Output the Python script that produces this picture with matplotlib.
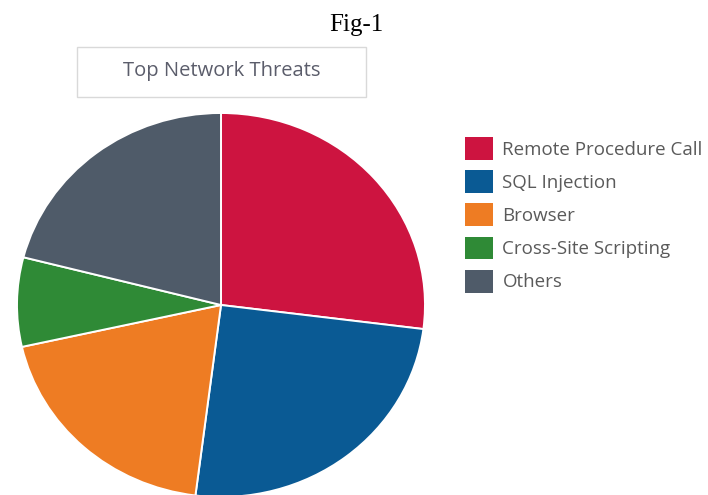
import matplotlib
matplotlib.use("Agg")
from matplotlib import pyplot as plt
from matplotlib.patches import Rectangle

# data
labels = ['Remote Procedure Call', 'SQL Injection', 'Browser',
          'Cross-Site Scripting', 'Others']
shares = [27, 25, 19.5, 7.5, 21]
colors = ['#CD1440', '#0A5A94', '#EE7C23', '#2F8A36', '#4F5B69']

W, H = 708, 495
fig = plt.figure(figsize=(W / 100, H / 100), dpi=100)
fig.set_facecolor('w')


def px(x, y):
    # pixel (top-left origin) -> figure fraction
    return x / W, 1 - y / H


# pie axes: centre (221, 305), radii 204 x 192 px
cx, cy, rx, ry = 221, 305, 204, 192
ax = fig.add_axes([(cx - rx) / W, 1 - (cy + ry) / H, 2 * rx / W, 2 * ry / H])
wedges, _ = ax.pie(shares, colors=colors, startangle=90, counterclock=False,
                   radius=1, wedgeprops=dict(edgecolor='white', linewidth=1.4))
ax.set_aspect('auto')
ax.set_xlim(-1, 1)
ax.set_ylim(-1, 1)
ax.axis('off')

# caption on top
fig.text(*px(356, 31), 'Fig-1', family='Liberation Serif', fontsize=18,
         ha='center', va='baseline', color='black')

# boxed title
x0, y0 = px(77, 97)
x1, y1 = px(366, 47)
fig.patches.append(Rectangle((x0, y0), x1 - x0, y1 - y0, transform=fig.transFigure,
                             facecolor='white', edgecolor='#d9d9d9', lw=1))
fig.text(*px(222, 71), 'Top Network Threats', family='Open Sans', fontsize=14.5,
         ha='center', va='center', color='#5b5d6b')

leg = fig.legend(wedges, labels, loc='upper left', bbox_to_anchor=px(465, 137),
                 frameon=False, borderpad=0, borderaxespad=0,
                 handlelength=1.5, handleheight=1.5, handletextpad=0.5,
                 labelspacing=0.55, prop=dict(family='Open Sans', size=13.5))
for t in leg.get_texts():
    t.set_color('#5a5a5a')
for h in leg.legend_handles:
    h.set_edgecolor('none')

fig.savefig('out.png', dpi=100, facecolor='w')
